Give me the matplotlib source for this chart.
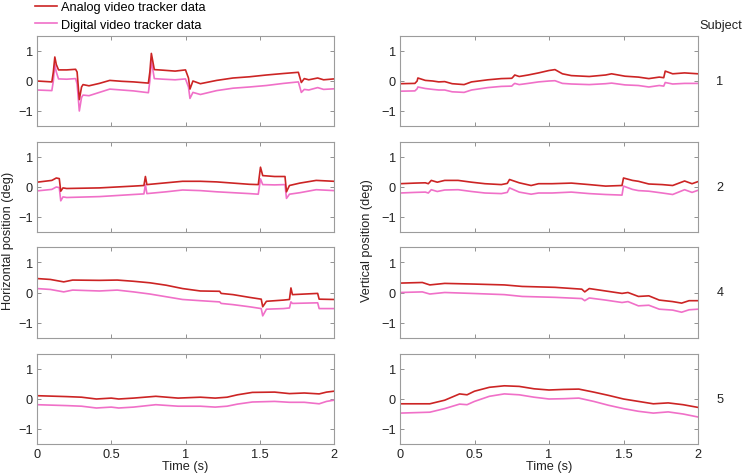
import matplotlib
matplotlib.use("Agg")
import matplotlib.pyplot as plt

plt.rcParams['font.family'] = ['Liberation Sans', 'DejaVu Sans']
plt.rcParams['font.size'] = 9.2

# subject numbers per row
subjects = ['1', '2', '4', '5']

# horizontal position (left column), time in s, position in deg
h1_t = [0, 0.10, 0.11, 0.12, 0.13, 0.145, 0.2, 0.26, 0.27, 0.285, 0.30, 0.31, 0.35, 0.42, 0.49, 0.57, 0.65, 0.75, 0.76, 0.77,
        0.79, 0.85, 0.93, 1.0, 1.02, 1.03, 1.05, 1.10, 1.21, 1.32, 1.43, 1.545, 1.66, 1.76, 1.78, 1.80, 1.83, 1.89, 1.93, 2.0]
h1_analog = [0.0, -0.03, 0.3, 0.8, 0.55, 0.37, 0.37, 0.39, 0.3, -0.62, -0.2, -0.12, -0.16, -0.08, 0.02, -0.01, -0.03, -0.07, 0.3, 0.92,
             0.38, 0.36, 0.33, 0.37, 0.1, -0.27, 0.0, -0.09, 0.02, 0.1, 0.14, 0.2, 0.25, 0.29, -0.05, 0.08, 0.04, 0.1, 0.04, 0.07]
h1_digital = [-0.3, -0.32, 0.0, 0.55, 0.3, 0.07, 0.06, 0.08, -0.1, -1.0, -0.55, -0.47, -0.49, -0.38, -0.27, -0.3, -0.33, -0.39, 0.0, 0.68,
              0.08, 0.06, 0.04, 0.07, -0.2, -0.58, -0.38, -0.45, -0.32, -0.24, -0.2, -0.15, -0.08, -0.03, -0.38, -0.28, -0.3, -0.22, -0.28, -0.26]

h2_t = [0, 0.10, 0.13, 0.15, 0.16, 0.175, 0.20, 0.42, 0.65, 0.72, 0.73, 0.74, 0.87, 0.98,
        1.10, 1.21, 1.32, 1.43, 1.49, 1.505, 1.52, 1.60, 1.67, 1.68, 1.70, 1.77, 1.88, 2.0]
h2_analog = [0.16, 0.22, 0.3, 0.28, -0.14, -0.03, -0.05, -0.03, 0.03, 0.05, 0.35, 0.08, 0.14, 0.19,
             0.19, 0.17, 0.13, 0.09, 0.08, 0.66, 0.38, 0.35, 0.35, -0.16, 0.05, 0.13, 0.22, 0.19]
h2_digital = [-0.13, -0.08, 0.0, -0.02, -0.46, -0.33, -0.35, -0.32, -0.25, -0.23, 0.08, -0.22, -0.16, -0.1,
              -0.12, -0.16, -0.19, -0.22, -0.24, 0.27, 0.08, 0.07, 0.08, -0.38, -0.24, -0.19, -0.09, -0.12]

h4_t = [0, 0.09, 0.18, 0.24, 0.42, 0.54, 0.65, 0.76, 0.87, 0.98, 1.10, 1.23, 1.24,
        1.32, 1.43, 1.51, 1.52, 1.545, 1.66, 1.70, 1.71, 1.72, 1.89, 1.90, 2.0]
h4_analog = [0.46, 0.43, 0.35, 0.41, 0.4, 0.41, 0.37, 0.32, 0.24, 0.13, 0.05, 0.04, -0.03,
             -0.07, -0.16, -0.22, -0.47, -0.29, -0.25, -0.23, 0.15, -0.07, -0.03, -0.22, -0.23]
h4_digital = [0.13, 0.1, 0.02, 0.08, 0.05, 0.08, 0.02, -0.05, -0.14, -0.23, -0.27, -0.31, -0.36,
              -0.4, -0.47, -0.53, -0.77, -0.55, -0.53, -0.51, -0.31, -0.36, -0.34, -0.53, -0.53]

h5_t = [0, 0.2, 0.3, 0.4, 0.5, 0.55, 0.65, 0.8, 0.95, 1.1, 1.2, 1.28, 1.35, 1.45, 1.6, 1.7, 1.8, 1.9, 1.95, 2.0]
h5_analog = [0.11, 0.08, 0.06, 0.0, 0.03, 0.0, 0.03, 0.09, 0.03, 0.06, 0.03, 0.06, 0.14, 0.22, 0.23, 0.18, 0.2, 0.17, 0.23, 0.26]
h5_digital = [-0.19, -0.22, -0.24, -0.3, -0.27, -0.3, -0.27, -0.19, -0.24, -0.24, -0.27, -0.24, -0.17, -0.1, -0.08, -0.11, -0.11, -0.16, -0.08, -0.04]

# vertical position (right column)
v1_t = [0, 0.10, 0.115, 0.12, 0.17, 0.22, 0.26, 0.30, 0.35, 0.43, 0.48, 0.59, 0.68, 0.75, 0.76, 0.77, 0.80, 0.86,
        0.93, 1.0, 1.04, 1.09, 1.15, 1.27, 1.38, 1.42, 1.51, 1.60, 1.67, 1.74, 1.77, 1.78, 1.83, 1.91, 2.0]
v1_analog = [-0.09, -0.08, 0.0, 0.1, 0.02, 0.0, -0.03, -0.02, -0.09, -0.12, -0.03, 0.04, 0.08, 0.09, 0.14, 0.2, 0.15, 0.2,
             0.27, 0.35, 0.38, 0.24, 0.18, 0.15, 0.2, 0.24, 0.16, 0.13, 0.08, 0.13, 0.11, 0.33, 0.24, 0.27, 0.24]
v1_digital = [-0.34, -0.33, -0.26, -0.2, -0.25, -0.28, -0.3, -0.3, -0.36, -0.38, -0.3, -0.22, -0.18, -0.17, -0.12, -0.08, -0.12, -0.08,
              -0.03, 0.0, 0.01, -0.08, -0.1, -0.12, -0.09, -0.07, -0.13, -0.15, -0.2, -0.15, -0.17, -0.05, -0.1, -0.08, -0.08]

v2_t = [0, 0.10, 0.17, 0.19, 0.21, 0.25, 0.30, 0.39, 0.48, 0.57, 0.68, 0.72, 0.735, 0.80, 0.88,
        0.93, 1.02, 1.15, 1.27, 1.38, 1.49, 1.50, 1.56, 1.60, 1.67, 1.76, 1.83, 1.91, 1.96, 2.0]
v2_analog = [0.11, 0.13, 0.14, 0.11, 0.22, 0.16, 0.22, 0.22, 0.16, 0.11, 0.08, 0.12, 0.25, 0.14, 0.05,
             0.11, 0.11, 0.13, 0.08, 0.03, 0.05, 0.3, 0.22, 0.19, 0.1, 0.08, 0.05, 0.2, 0.11, 0.18]
v2_digital = [-0.2, -0.18, -0.17, -0.2, -0.09, -0.15, -0.1, -0.09, -0.15, -0.2, -0.22, -0.18, -0.03, -0.17, -0.24,
              -0.2, -0.2, -0.17, -0.22, -0.25, -0.27, 0.03, -0.08, -0.12, -0.14, -0.2, -0.25, -0.09, -0.18, -0.11]

v4_t = [0, 0.15, 0.2, 0.3, 0.48, 0.7, 0.82, 1.04, 1.22, 1.24, 1.27, 1.38, 1.49, 1.53, 1.6, 1.67, 1.74, 1.83, 1.89, 1.94, 2.0]
v4_analog = [0.31, 0.33, 0.25, 0.3, 0.28, 0.25, 0.2, 0.17, 0.11, 0.02, 0.13, 0.05, -0.03, 0.0, -0.13, -0.11, -0.25, -0.3, -0.35, -0.27, -0.27]
v4_digital = [0.0, 0.02, -0.05, 0.0, -0.03, -0.07, -0.13, -0.16, -0.2, -0.27, -0.18, -0.25, -0.33, -0.3, -0.44, -0.42, -0.55, -0.58, -0.65, -0.57, -0.55]

v5_t = [0, 0.2, 0.3, 0.4, 0.45, 0.5, 0.6, 0.7, 0.8, 0.9, 1.0, 1.1, 1.2, 1.3, 1.4, 1.5, 1.6, 1.7, 1.8, 1.9, 2.0]
v5_analog = [-0.16, -0.16, -0.04, 0.17, 0.14, 0.26, 0.39, 0.44, 0.42, 0.34, 0.3, 0.32, 0.33, 0.23, 0.12, 0.0, -0.08, -0.16, -0.13, -0.19, -0.28]
v5_digital = [-0.47, -0.44, -0.32, -0.17, -0.19, -0.08, 0.09, 0.17, 0.14, 0.06, 0.0, 0.01, 0.03, -0.08, -0.21, -0.32, -0.41, -0.47, -0.43, -0.5, -0.6]

left = [(h1_t, h1_analog, h1_digital), (h2_t, h2_analog, h2_digital),
        (h4_t, h4_analog, h4_digital), (h5_t, h5_analog, h5_digital)]
right = [(v1_t, v1_analog, v1_digital), (v2_t, v2_analog, v2_digital),
         (v4_t, v4_analog, v4_digital), (v5_t, v5_analog, v5_digital)]

red = '#cc2424'
pink = '#f070c8'
edge = '#9c9c9c'

fig = plt.figure(figsize=(7.45, 4.77), dpi=100)
W, H = 745.0, 477.0
rows_px = [(37, 127), (143, 233), (248, 339), (355, 445)]
cols_px = [(37, 334), (400, 698)]

handles = None
for r, (top, bot) in enumerate(rows_px):
    for c, (x0, x1) in enumerate(cols_px):
        ax = fig.add_axes([x0 / W, 1 - bot / H, (x1 - x0) / W, (bot - top) / H])
        t, a, d = (left if c == 0 else right)[r]
        l2, = ax.plot(t, d, color=pink, lw=1.2)
        l1, = ax.plot(t, a, color=red, lw=1.2)
        if handles is None:
            handles = [l1, l2]
        ax.set_xlim(0, 2)
        ax.set_ylim(-1.5, 1.5)
        ax.set_xticks([0, 0.5, 1, 1.5, 2])
        ax.set_xticklabels(['0', '0.5', '1', '1.5', '2'])
        ax.set_yticks([-1, 0, 1])
        ax.set_yticklabels(['\u22121', '0', '1'])
        ax.tick_params(direction='in', top=True, right=True, length=3, width=0.6,
                       color='#808080', labelcolor='#222222', pad=3)
        for s in ax.spines.values():
            s.set_color(edge)
            s.set_linewidth(0.8)
        if r < 3:
            ax.tick_params(labelbottom=False)
        else:
            ax.set_xlabel('Time (s)', labelpad=0, color='#222222')
        if c == 1:
            ax.annotate(subjects[r], xy=(720 / W, 0), xycoords=('figure fraction', 'data'),
                        ha='center', va='center', color='#222222')

fig.text(8 / W, 1 - 241 / H, 'Horizontal position (deg)', rotation=90, ha='center', va='center', color='#222222')
fig.text(367 / W, 1 - 241 / H, 'Vertical position (deg)', rotation=90, ha='center', va='center', color='#222222')
fig.text(721 / W, 1 - 26 / H, 'Subject', ha='center', va='center', color='#222222')

fig.legend(handles=handles, labels=['Analog video tracker data', 'Digital video tracker data'],
           loc='upper left', bbox_to_anchor=(30 / W, 1 + 3 / H), frameon=False,
           handlelength=1.75, handletextpad=0.3, labelspacing=0.45, borderaxespad=0)

fig.savefig('out.png', dpi=100)
